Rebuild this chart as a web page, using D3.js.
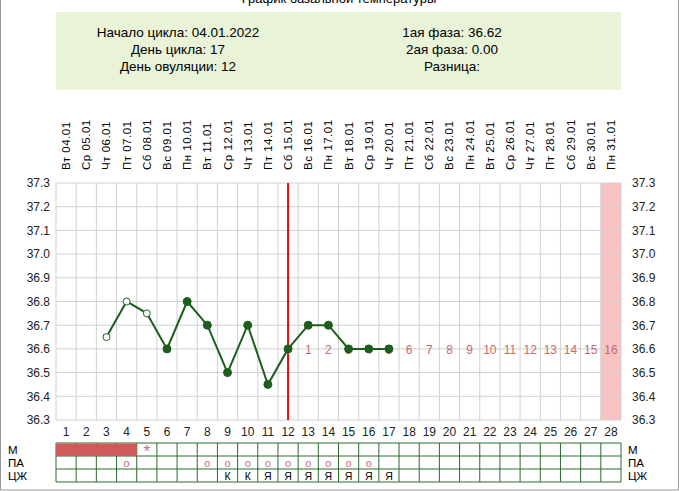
<!DOCTYPE html>
<html><head><meta charset="utf-8">
<script src="https://cdn.jsdelivr.net/npm/d3@7"></script>
<style>body{margin:0;background:#fff}svg{font-family:"Liberation Sans",Arial,sans-serif}</style>
</head><body><svg id="c" width="679" height="491"></svg>
<script>
const days = d3.range(1, 29);
const dates = ["Вт 04.01","Ср 05.01","Чт 06.01","Пт 07.01","Сб 08.01","Вс 09.01","Пн 10.01","Вт 11.01","Ср 12.01","Чт 13.01","Пт 14.01","Сб 15.01","Вс 16.01","Пн 17.01","Вт 18.01","Ср 19.01","Чт 20.01","Пт 21.01","Сб 22.01","Вс 23.01","Пн 24.01","Вт 25.01","Ср 26.01","Чт 27.01","Пт 28.01","Сб 29.01","Вс 30.01","Пн 31.01"];
const tempDays = [3,4,5,6,7,8,9,10,11,12,13,14,15,16,17];
const temps = [36.65,36.8,36.75,36.6,36.8,36.7,36.5,36.7,36.45,36.6,36.7,36.7,36.6,36.6,36.6];
const openPts = [3,4,5];
const yTicks = [36.3,36.4,36.5,36.6,36.7,36.8,36.9,37.0,37.1,37.2,37.3];
const ovulationDay = 12;
const mensDays = [1,2,3,4];
const starDays = [5];
const paDays = [4,8,9,10,11,12,13,14,15,16];
const czDays = [9,10,11,12,13,14,15,16,17];
const czVals = ["К","К","Я","Я","Я","Я","Я","Я","Я"];
const infoLeft = ["Начало цикла: 04.01.2022","День цикла: 17","День овуляции: 12"];
const infoRight = ["1ая фаза: 36.62","2ая фаза: 0.00","Разница:"];

const svg = d3.select("#c");
const L = 56, R = 621, T = 183, B = 420;
const x = d3.scaleBand().domain(days).range([L, R]);
const y = d3.scaleLinear().domain([36.3, 37.3]).range([B, T]);
const cx = d => x(d) + x.bandwidth() / 2;

svg.append("rect").attr("x",0.5).attr("y",-2).attr("width",678).attr("height",492).attr("fill","none").attr("stroke","#999");
svg.append("text").attr("x",339).attr("y",3).attr("text-anchor","middle").attr("font-size",13).text("График базальной температуры");

// info box
svg.append("rect").attr("x",L).attr("y",12).attr("width",R-L).attr("height",78).attr("fill","#e8f3d8");
infoLeft.forEach((t,i)=>svg.append("text").attr("x",178).attr("y",37+i*17).attr("text-anchor","middle").attr("font-size",13.5).attr("textLength",null).text(t));
infoRight.forEach((t,i)=>svg.append("text").attr("x",452).attr("y",37+i*17).attr("text-anchor","middle").attr("font-size",13.5).text(t));

// date labels
dates.forEach((t,i)=>svg.append("text").attr("transform",`translate(${cx(days[i])+4},170) rotate(-90)`).attr("font-size",11.5).attr("letter-spacing",0.5).text(t));

// last day shading
svg.append("rect").attr("x",x(28)).attr("y",T).attr("width",x.bandwidth()).attr("height",B-T).attr("fill","#f7c3c3");

// grid
const g = svg.append("g");
yTicks.forEach(v=>g.append("line").attr("x1",L).attr("x2",R).attr("y1",y(v)).attr("y2",y(v)).attr("stroke","#d0d0d0"));
days.concat([29]).forEach(d=>{const xx = d<=28? x(d): R; g.append("line").attr("x1",xx).attr("x2",xx).attr("y1",T).attr("y2",B).attr("stroke","#d0d0d0");});

// axes
const yl = svg.append("g").attr("transform",`translate(${L-3},0)`).call(d3.axisLeft(y).tickValues(yTicks).tickFormat(d3.format(".1f")).tickSize(0));
const yr = svg.append("g").attr("transform",`translate(${R+8},0)`).call(d3.axisRight(y).tickValues(yTicks).tickFormat(d3.format(".1f")).tickSize(0));
const xa = svg.append("g").attr("transform",`translate(0,${B})`).call(d3.axisBottom(x).tickSize(0));
[yl,yr,xa].forEach(a=>{a.select(".domain").remove();a.selectAll("text").attr("font-size",12).attr("font-family","Liberation Sans").attr("fill","#222");});
xa.selectAll("text").attr("dy","1.1em");

// ovulation line
svg.append("line").attr("x1",cx(ovulationDay)).attr("x2",cx(ovulationDay)).attr("y1",T).attr("y2",B).attr("stroke","#e01010").attr("stroke-width",2);

// luteal day numbers
days.filter(d=>d>ovulationDay).forEach(d=>svg.append("text").attr("x",cx(d)).attr("y",y(36.6)+5).attr("text-anchor","middle").attr("font-size",12).attr("fill","#c86a6a").text(d-ovulationDay));

// temp line
const pts = tempDays.map((d,i)=>[cx(d),y(temps[i])]);
svg.append("path").attr("d",d3.line()(pts)).attr("fill","none").attr("stroke","#1d5e1d").attr("stroke-width",2);
tempDays.forEach((d,i)=>{const open = openPts.includes(d);
  svg.append("circle").attr("cx",cx(d)).attr("cy",y(temps[i])).attr("r",open?3.5:4).attr("fill",open?"#fff":"#1d5e1d").attr("stroke","#1d5e1d").attr("stroke-width",1);});

// bottom table
const rowY = [443,456,469,482];
const tb = svg.append("g").attr("stroke","#2e6a2e").attr("stroke-width",1);
rowY.forEach(v=>tb.append("line").attr("x1",L).attr("x2",R).attr("y1",v).attr("y2",v));
days.concat([29]).forEach(d=>{const xx = d<=28? x(d): R; tb.append("line").attr("x1",xx).attr("x2",xx).attr("y1",rowY[0]).attr("y2",rowY[3]);});
svg.append("rect").attr("x",x(mensDays[0])).attr("y",rowY[0]+0.5).attr("width",x.bandwidth()*mensDays.length).attr("height",12.5).attr("fill","#d05a5a");
starDays.forEach(d=>svg.append("text").attr("x",cx(d)).attr("y",rowY[0]+14).attr("text-anchor","middle").attr("font-size",17).attr("fill","#d06a7a").text("*"));
paDays.forEach(d=>svg.append("text").attr("x",cx(d)).attr("y",rowY[1]+11).attr("text-anchor","middle").attr("font-size",11).attr("fill","#d06a7a").text("o"));
czDays.forEach((d,i)=>svg.append("text").attr("x",cx(d)).attr("y",rowY[2]+11).attr("text-anchor","middle").attr("font-size",10.5).text(czVals[i]));
["М","ПА","ЦЖ"].forEach((t,i)=>{
  svg.append("text").attr("x",8).attr("y",rowY[i]+11).attr("font-size",11.5).text(t);
  svg.append("text").attr("x",628).attr("y",rowY[i]+11).attr("font-size",11.5).text(t);});
</script></body></html>
